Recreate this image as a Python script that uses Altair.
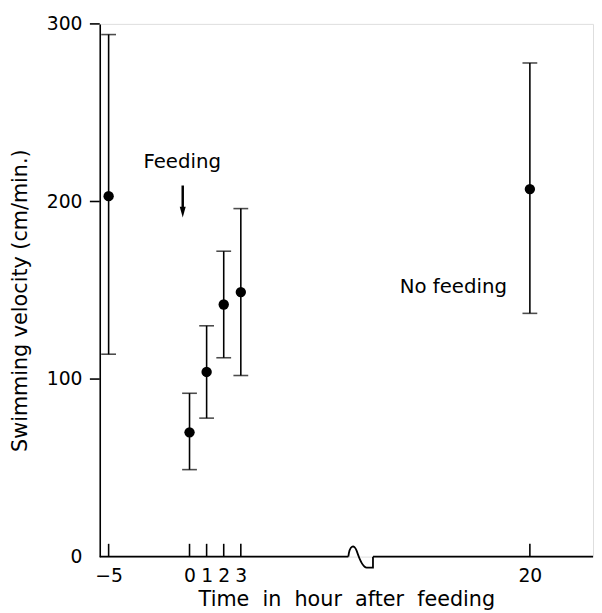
import altair as alt
import pandas as pd

# ---- data ----
hours = [-5, 0, 1, 2, 3, 20]
velocity = [203, 70, 104, 142, 149, 207]
upper = [294, 92, 130, 172, 196, 278]
lower = [114, 49, 78, 112, 102, 137]

x_tick_values = [-5, 0, 1, 2, 3, 20]
y_tick_values = [100, 200, 300]

FONT = "DejaVu Sans"

df = pd.DataFrame({"t": hours, "v": velocity, "hi": upper, "lo": lower})
xticks_df = pd.DataFrame({"t": x_tick_values})
yticks_df = pd.DataFrame({"v": y_tick_values})

# broken (piecewise) time axis
xscale = alt.Scale(domain=[-5.55, -5, 0, 3, 20, 23.7],
                   range=[0, 9, 91, 143, 436, 500], nice=False, zero=False)
yscale = alt.Scale(domain=[0, 300], nice=False, zero=True)

W, H = 500, 540

x_axis = alt.Axis(values=x_tick_values, title="Time\u00a0 in\u00a0 hour\u00a0 after\u00a0 feeding",
                  grid=False, domain=False, ticks=False, tickSize=0,
                  labelFontSize=19, labelFont=FONT, labelColor="black",
                  labelPadding=10, labelFlush=False, labelOverlap=False,
                  titleFont=FONT, titleFontSize=21, titleFontWeight="normal",
                  titleColor="black", titleY=33)
y_axis = alt.Axis(values=[0, 100, 200, 300], title="Swimming velocity (cm/min.)",
                  grid=False, domain=True, domainColor="black", domainWidth=1.6,
                  ticks=False, tickSize=0,
                  labelFontSize=19, labelFont=FONT, labelColor="black",
                  labelPadding=18, labelOverlap=False,
                  titleFont=FONT, titleFontSize=21, titleFontWeight="normal",
                  titleColor="black", titleX=-70, titleY=280)

X = alt.X("t:Q", scale=xscale, axis=x_axis)
Y = alt.Y("v:Q", scale=yscale, axis=y_axis)

points = alt.Chart(df).mark_point(filled=True, size=110, color="black", opacity=1).encode(x=X, y=Y)

bars = alt.Chart(df).mark_rule(color="black", strokeWidth=1.6).encode(
    x=alt.X("t:Q", scale=xscale), y=alt.Y("lo:Q", scale=yscale), y2="hi:Q")
cap_hi = alt.Chart(df).mark_tick(orient="horizontal", size=15, thickness=1.6, color="black").encode(
    x=alt.X("t:Q", scale=xscale), y=alt.Y("hi:Q", scale=yscale))
cap_lo = alt.Chart(df).mark_tick(orient="horizontal", size=15, thickness=1.6, color="black").encode(
    x=alt.X("t:Q", scale=xscale), y=alt.Y("lo:Q", scale=yscale))

# inward x ticks, outward y ticks
xt = alt.Chart(xticks_df).mark_rule(color="black", strokeWidth=1.6).encode(
    x=alt.X("t:Q", scale=xscale), y=alt.value(H - 13), y2=alt.value(H))
yt = alt.Chart(yticks_df).mark_rule(color="black", strokeWidth=1.6).encode(
    y=alt.Y("v:Q", scale=yscale), x=alt.value(-10), x2=alt.value(0))

one = alt.Data(values=[{"a": 0}])
# x axis line, broken by a squiggle
xline1 = alt.Chart(one).mark_rule(color="black", strokeWidth=1.8).encode(
    x=alt.value(0), x2=alt.value(252), y=alt.value(H))
xline2 = alt.Chart(one).mark_rule(color="black", strokeWidth=1.8).encode(
    x=alt.value(277), x2=alt.value(W), y=alt.value(H))
squiggle_path = "M -1 0 C -0.9 -0.9 -0.55 -1.0 -0.35 -0.45 C -0.15 0.15 0.15 0.9 0.45 0.85 L 0.92 0.85 L 0.92 0"
squiggle = alt.Chart(one).mark_point(shape=squiggle_path, size=676, filled=False,
                                     color="black", strokeWidth=1.8, opacity=1).encode(
    x=alt.value(265), y=alt.value(H))

# annotations
ann = pd.DataFrame({"t": [-0.45, 15.5], "v": [222, 152], "label": ["Feeding", "No feeding"]})
texts = alt.Chart(ann).mark_text(font=FONT, fontSize=20, color="black", baseline="middle", align="center").encode(
    x=alt.X("t:Q", scale=xscale), y=alt.Y("v:Q", scale=yscale), text="label:N")

arrow_df = pd.DataFrame({"t": [-0.42], "v1": [209], "v2": [196], "vh": [194]})
shaft = alt.Chart(arrow_df).mark_rule(color="black", strokeWidth=2.5).encode(
    x=alt.X("t:Q", scale=xscale), y=alt.Y("v1:Q", scale=yscale), y2="v2:Q")
head = alt.Chart(arrow_df).mark_point(shape="M -0.55 -1 L 0.55 -1 L 0 1 Z", size=121, filled=True,
                                      color="black", opacity=1).encode(
    x=alt.X("t:Q", scale=xscale), y=alt.Y("vh:Q", scale=yscale))

chart = alt.layer(points, bars, cap_hi, cap_lo, xt, yt, xline1, xline2, squiggle,
                  texts, shaft, head).properties(
    width=W, height=H,
    autosize=alt.AutoSizeParams(type="none"),
    padding={"left": 93, "top": 12, "right": 1, "bottom": 53},
).configure_view(stroke=None).configure(background="white")

chart.save("out.html", embed_options={"renderer": "svg", "actions": False})
